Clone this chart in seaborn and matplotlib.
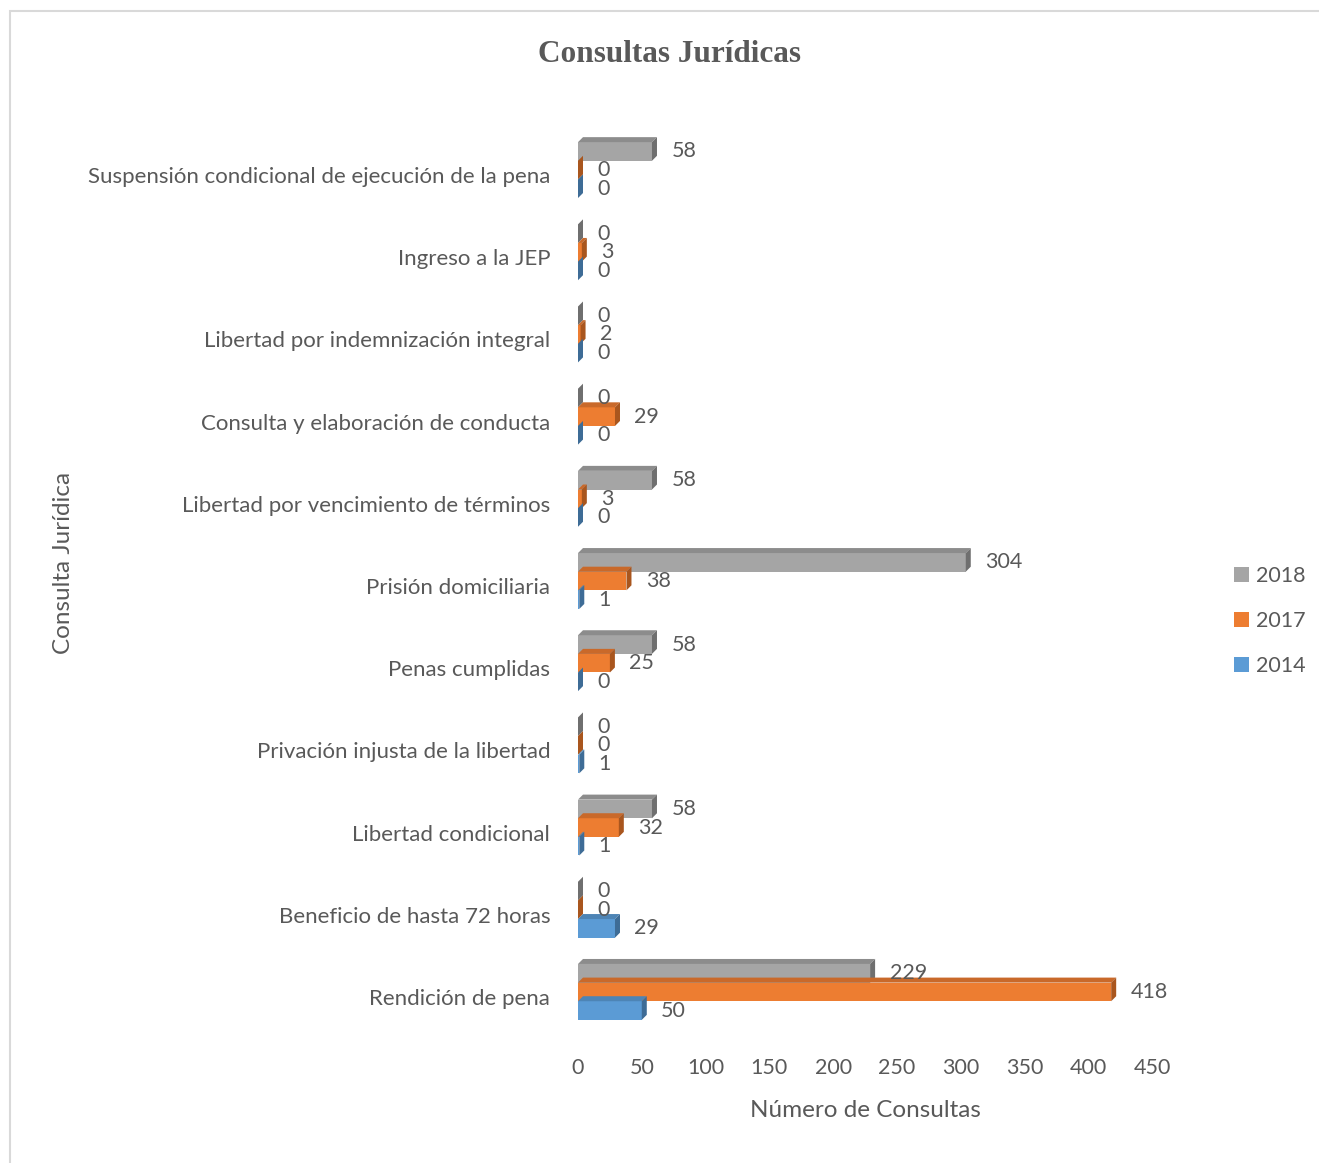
import numpy as np
import pandas as pd
import matplotlib
matplotlib.use("Agg")
import matplotlib.pyplot as plt
import matplotlib.transforms as mtransforms
import seaborn as sns
from matplotlib.patches import Polygon, Rectangle

categorias = [
    "Suspensión condicional de ejecución de la pena",
    "Ingreso a la JEP",
    "Libertad por indemnización integral",
    "Consulta y elaboración de conducta",
    "Libertad por vencimiento de términos",
    "Prisión domiciliaria",
    "Penas cumplidas",
    "Privación injusta de la libertad",
    "Libertad condicional",
    "Beneficio de hasta 72 horas",
    "Rendición de pena",
]
anios = ["2018", "2017", "2014"]
v2018 = [58, 0, 0, 0, 58, 304, 58, 0, 58, 0, 229]
v2017 = [0, 3, 2, 29, 3, 38, 25, 0, 32, 0, 418]
v2014 = [0, 0, 0, 0, 0, 1, 0, 1, 1, 29, 50]
x_ticks = [0, 50, 100, 150, 200, 250, 300, 350, 400, 450]

colores = {"2018": "#A5A5A5", "2017": "#ED7D31", "2014": "#5B9BD5"}
top_col = {"2018": "#8C8C8C", "2017": "#C9692A", "2014": "#4D84B5"}
side_col = {"2018": "#6F6F6F", "2017": "#A9561E", "2014": "#3E6C96"}
texto = "#595959"

df = pd.DataFrame({
    "Consulta": categorias * 3,
    "Año": ["2018"] * 11 + ["2017"] * 11 + ["2014"] * 11,
    "Valor": v2018 + v2017 + v2014,
})

sns.set_style("white")
plt.rcParams["font.family"] = ["Lato", "DejaVu Sans"]

fig = plt.figure(figsize=(13.19, 11.63), dpi=100)
ax = fig.add_axes([578 / 1319, 1 - 1033 / 1163, 574 / 1319, 904 / 1163])

sns.barplot(data=df, y="Consulta", x="Valor", hue="Año", hue_order=anios,
            order=categorias, palette=colores, orient="h", width=0.68,
            saturation=1, linewidth=0, edgecolor="none", ax=ax)

ax.set_xlim(0, 450)
ax.set_ylim(10.5, -0.5)

# pseudo 3D faces
px_x = 574 / 450
px_y = 904 / 11
dx = 5 / px_x
dy = 5 / px_y
for cont, anio in zip(ax.containers, anios):
    for p in cont:
        x0 = p.get_x()
        x1 = x0 + p.get_width()
        yt = min(p.get_y(), p.get_y() + p.get_height())
        yb = max(p.get_y(), p.get_y() + p.get_height())
        ax.add_patch(Polygon([(x0, yt), (x0 + dx, yt - dy), (x1 + dx, yt - dy), (x1, yt)],
                             closed=True, facecolor=top_col[anio], edgecolor="none",
                             clip_on=False))
        ax.add_patch(Polygon([(x1, yt), (x1 + dx, yt - dy), (x1 + dx, yb - dy), (x1, yb)],
                             closed=True, facecolor=side_col[anio], edgecolor="none",
                             clip_on=False))
    ax.bar_label(cont, padding=14, fontsize=15.5, color=texto)

sns.despine(ax=ax, left=True, bottom=True)
ax.set_xticks(x_ticks)
ax.tick_params(axis="x", length=0, labelsize=15.5, colors=texto, pad=18)
ax.tick_params(axis="y", length=0, labelsize=16, colors=texto, pad=20)
shift = mtransforms.ScaledTranslation(0, -5 / 100, fig.dpi_scale_trans)
for lbl in ax.get_yticklabels():
    lbl.set_transform(lbl.get_transform() + shift)
ax.set_xlabel("Número de Consultas", fontsize=17.5, color=texto, labelpad=16)
ax.set_ylabel("Consulta Jurídica", fontsize=17.5, color=texto)
ax.yaxis.set_label_coords(-(578 - 74) / 574, 0.52)

ax.legend(loc="center left", bbox_to_anchor=(1215 / 1319, 1 - 621 / 1163),
          bbox_transform=fig.transFigure, frameon=False, fontsize=15.5,
          handlelength=0.7, handleheight=0.7, handletextpad=0.3,
          labelspacing=1.15, labelcolor=texto)

fig.text(670 / 1319, 1 - 55 / 1163, "Consultas Jurídicas", ha="center", va="center",
         fontsize=22.5, fontweight="bold", color=texto,
         family=["Liberation Serif", "DejaVu Serif"])

fig.patches.append(Rectangle((10 / 1319, -0.01), 1.05, 1 - 11 / 1163 + 0.01,
                             transform=fig.transFigure, fill=False,
                             edgecolor="#D9D9D9", linewidth=1.5, figure=fig))

fig.savefig("out.png", dpi=100)
